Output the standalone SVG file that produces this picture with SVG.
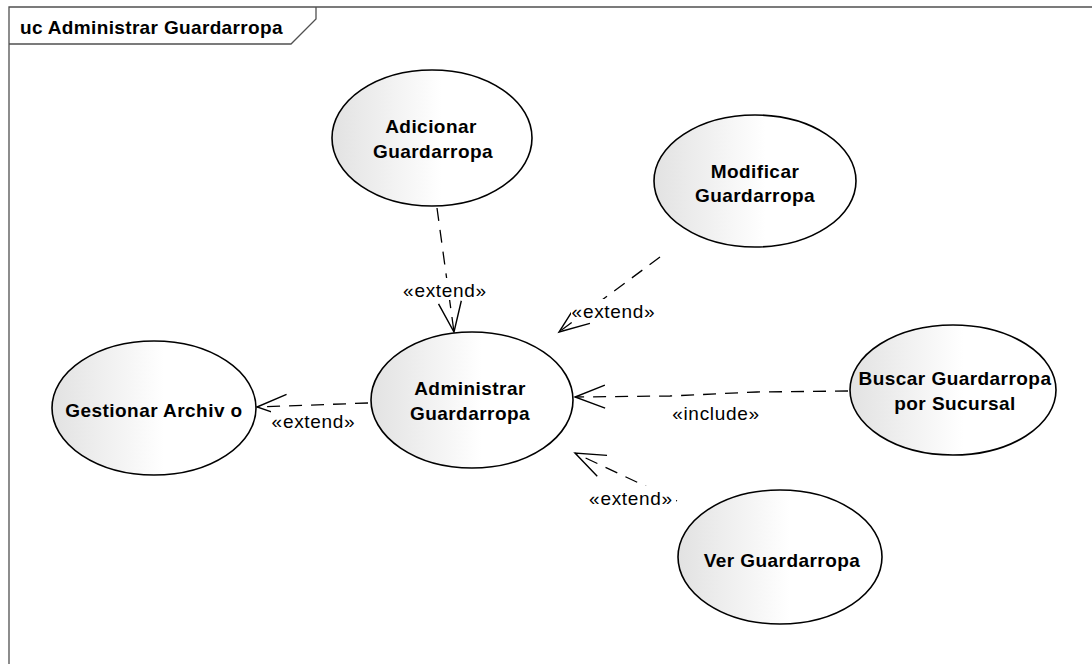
<svg xmlns="http://www.w3.org/2000/svg" width="1092" height="664" viewBox="0 0 1092 664">
<defs>
<linearGradient id="uc" x1="0" y1="0" x2="1" y2="0">
<stop offset="0" stop-color="#e2e2e2"/>
<stop offset="0.55" stop-color="#ffffff"/>
<stop offset="1" stop-color="#ffffff"/>
</linearGradient>
<marker id="open" markerUnits="userSpaceOnUse" markerWidth="40" markerHeight="30" viewBox="-32 -15 36 30" refX="0" refY="0" orient="auto" overflow="visible">
<path d="M-30,-11.5 L0,0 L-30,11.5" fill="none" stroke="#000" stroke-width="1.4" stroke-dasharray="none"/>
</marker>
<style>
.frame{fill:none;stroke:#505050;stroke-width:1.3}
.uc ellipse{fill:url(#uc);stroke:#000;stroke-width:1.6}
.uc text{font-family:"Liberation Sans",Arial,sans-serif;font-weight:bold;font-size:19px;letter-spacing:0.45px;fill:#000;text-anchor:middle}
.title{font-family:"Liberation Sans",Arial,sans-serif;font-weight:bold;font-size:19px;letter-spacing:0.35px;fill:#000}
.conn path{fill:none;stroke:#000;stroke-width:1.3;stroke-dasharray:13 9;marker-end:url(#open)}
.lbl rect{fill:#fff}
.lbl text{font-family:"Liberation Sans",Arial,sans-serif;font-size:19px;letter-spacing:0.7px;fill:#000;text-anchor:middle}
</style>
</defs>
<rect width="1092" height="664" fill="#fff"/>
<g id="frame">
<path class="frame" d="M9,670 L9,7 L1100,7"/>
<path class="frame" d="M9,44 L291,44 L316,19 L316,7"/>
<text class="title" x="20" y="34">uc Administrar Guardarropa</text>
</g>
<g id="connectors" class="conn">
<path d="M437,208 L454,332"/>
<path d="M660,257 L559,332"/>
<path d="M848,391 L757,392 L670,396 L575,397"/>
<path d="M368,403 L257,407"/>
<path d="M677,501 L575,453"/>
</g>
<g id="labels" class="lbl">
<rect x="402" y="278" width="86" height="22"/><text x="445" y="297">«extend»</text>
<rect x="571" y="299" width="86" height="22"/><text x="613.5" y="318">«extend»</text>
<rect x="671" y="401" width="90" height="22"/><text x="716" y="420">«include»</text>
<rect x="271" y="409" width="86" height="22"/><text x="313.5" y="428">«extend»</text>
<rect x="586" y="486" width="90" height="22"/><text x="631" y="505">«extend»</text>
</g>
<g id="uc-adicionar" class="uc">
<ellipse cx="432" cy="138" rx="100" ry="68"/>
<text x="431" y="133">Adicionar</text>
<text x="433" y="158">Guardarropa</text>
</g>
<g id="uc-modificar" class="uc">
<ellipse cx="755" cy="181" rx="101" ry="66"/>
<text x="755" y="178">Modificar</text>
<text x="755" y="202">Guardarropa</text>
</g>
<g id="uc-administrar" class="uc">
<ellipse cx="472" cy="400" rx="101" ry="68"/>
<text x="470" y="395">Administrar</text>
<text x="470" y="420">Guardarropa</text>
</g>
<g id="uc-gestionar" class="uc">
<ellipse cx="154" cy="408" rx="102" ry="67"/>
<text x="154" y="417">Gestionar Archiv o</text>
</g>
<g id="uc-buscar" class="uc">
<ellipse cx="953" cy="390" rx="103" ry="65"/>
<text x="955" y="385">Buscar Guardarropa</text>
<text x="955" y="410">por Sucursal</text>
</g>
<g id="uc-ver" class="uc">
<ellipse cx="780" cy="557" rx="102" ry="67"/>
<text x="782" y="567">Ver Guardarropa</text>
</g>
</svg>
